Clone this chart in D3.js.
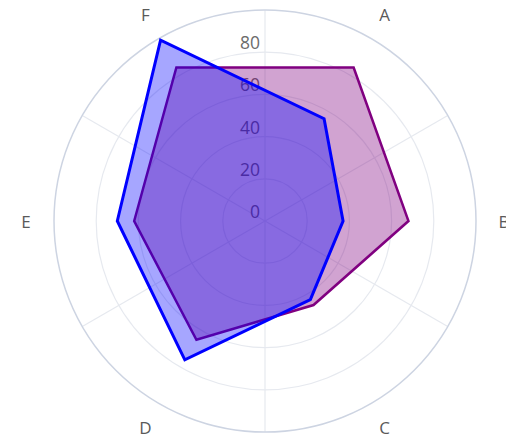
<!DOCTYPE html>
<html>
<head>
<meta charset="utf-8">
<script src="https://cdn.jsdelivr.net/npm/d3@7"></script>
<style>
  html, body { margin: 0; padding: 0; background: #fff; }
  svg { display: block; }
</style>
</head>
<body>
<svg id="chart" width="506" height="435"></svg>
<script>
const categories = ["A", "B", "C", "D", "E", "F"];
const seriesPurple = [84, 68, 46, 65, 62, 84];
const seriesBlue = [56, 37, 43, 76, 70, 99];
const radialTicks = [0, 20, 40, 60, 80];
const radialMax = 100;

const W = 506, H = 435;
const cx = 265, cy = 221, R = 211;

const svg = d3.select("#chart");
const g = svg.append("g").attr("transform", `translate(${cx},${cy})`);

const r = d3.scaleLinear().domain([0, radialMax]).range([0, R]);
const band = d3.scaleBand().domain(categories).range([0, 2 * Math.PI]).padding(0);
const ang = c => band(c) + band.bandwidth() / 2;

// ring grid
g.selectAll("circle.grid")
  .data(radialTicks.filter(t => t > 0))
  .join("circle")
  .attr("class", "grid")
  .attr("r", d => r(d))
  .attr("fill", "none")
  .attr("stroke", "#e6e9ef")
  .attr("stroke-width", 1.2);

// angular gridlines at band boundaries
g.selectAll("line.spoke")
  .data(categories)
  .join("line")
  .attr("class", "spoke")
  .attr("x1", 0).attr("y1", 0)
  .attr("x2", d => R * Math.sin(band(d)))
  .attr("y2", d => -R * Math.cos(band(d)))
  .attr("stroke", "#e6e9ef")
  .attr("stroke-width", 1.2);

// outer circle
g.append("circle")
  .attr("r", R)
  .attr("fill", "none")
  .attr("stroke", "#cdd4e2")
  .attr("stroke-width", 1.5);

// radial tick labels
g.selectAll("text.rtick")
  .data(radialTicks)
  .join("text")
  .attr("class", "rtick")
  .attr("x", -5)
  .attr("y", d => -r(d) - 3)
  .attr("text-anchor", "end")
  .attr("font-family", "'Open Sans', sans-serif")
  .attr("font-size", 17.5)
  .attr("fill", "#6b6b6b")
  .text(d => d);

// angular labels
const labelR = R + 28;
g.selectAll("text.alabel")
  .data(categories)
  .join("text")
  .attr("class", "alabel")
  .attr("x", d => labelR * Math.sin(ang(d)))
  .attr("y", d => -labelR * Math.cos(ang(d)))
  .attr("text-anchor", "middle")
  .attr("dominant-baseline", "central")
  .attr("font-family", "'Open Sans', sans-serif")
  .attr("font-size", 17)
  .attr("fill", "#5a5a5a")
  .text(d => d);

const line = d3.lineRadial()
  .angle((d, i) => ang(categories[i]))
  .radius(d => r(d))
  .curve(d3.curveLinearClosed);

g.append("path")
  .datum(seriesPurple)
  .attr("d", line)
  .attr("fill", "rgba(128,0,128,0.36)")
  .attr("stroke", "#800080")
  .attr("stroke-width", 2.5)
  .attr("stroke-linejoin", "miter");

g.append("path")
  .datum(seriesBlue)
  .attr("d", line)
  .attr("fill", "rgba(0,0,255,0.35)")
  .attr("stroke", "#0000ff")
  .attr("stroke-width", 3)
  .attr("stroke-linejoin", "miter");
</script>
</body>
</html>
